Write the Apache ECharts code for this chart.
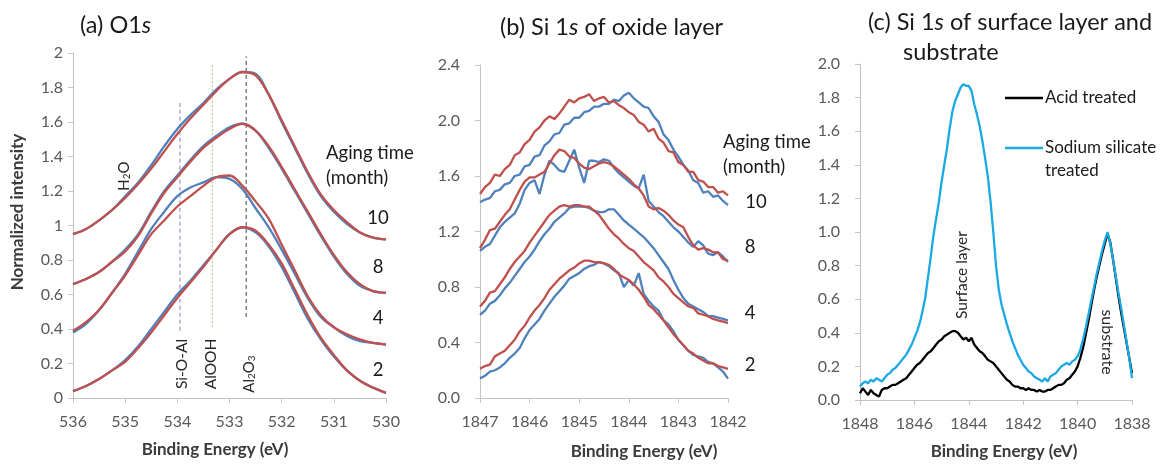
<!DOCTYPE html>
<html>
<head>
<meta charset="utf-8">
<title>XPS spectra</title>
<script src="https://cdn.jsdelivr.net/npm/echarts/dist/echarts.min.js"></script>
<style>
  html, body { margin: 0; padding: 0; background: #ffffff; }
  #chart { width: 1169px; height: 466px; }
</style>
</head>
<body>
<div id="chart"></div>
<script>
// ---------- (a) O1s ----------
const energyA = [536, 535.75, 535.5, 535.25, 535, 534.75, 534.5, 534.25, 534, 533.75, 533.5, 533.25, 533,
                 532.75, 532.5, 532.25, 532, 531.75, 531.5, 531.25, 531, 530.75, 530.5, 530.25, 530];
const o1sRed10  = [0.95,0.98,1.03,1.09,1.16,1.24,1.33,1.43,1.53,1.62,1.70,1.78,1.85,1.89,1.87,1.76,1.61,1.46,1.31,1.18,1.09,1.02,0.96,0.93,0.92];
const o1sBlue10 = [0.95,0.98,1.03,1.09,1.17,1.25,1.35,1.46,1.56,1.64,1.71,1.79,1.85,1.89,1.88,1.76,1.60,1.45,1.30,1.17,1.08,1.01,0.96,0.93,0.92];
const o1sRed8   = [0.66,0.69,0.73,0.79,0.85,0.94,1.07,1.19,1.28,1.37,1.45,1.51,1.56,1.59,1.55,1.46,1.34,1.21,1.08,0.95,0.83,0.73,0.66,0.62,0.61];
const o1sBlue8  = [0.66,0.69,0.73,0.79,0.86,0.95,1.08,1.20,1.29,1.38,1.46,1.52,1.57,1.59,1.55,1.45,1.33,1.20,1.07,0.94,0.82,0.72,0.65,0.62,0.61];
const o1sRed4   = [0.39,0.44,0.51,0.61,0.71,0.83,0.95,1.03,1.11,1.17,1.23,1.28,1.29,1.23,1.14,1.04,0.89,0.74,0.59,0.48,0.41,0.37,0.34,0.32,0.31];
const o1sBlue4  = [0.38,0.43,0.51,0.61,0.72,0.85,0.98,1.08,1.17,1.22,1.25,1.28,1.27,1.21,1.10,0.99,0.86,0.72,0.58,0.47,0.41,0.36,0.33,0.32,0.31];
const o1sRed2   = [0.04,0.07,0.11,0.16,0.21,0.29,0.38,0.48,0.58,0.67,0.76,0.86,0.95,0.99,0.97,0.89,0.78,0.63,0.48,0.35,0.25,0.16,0.10,0.06,0.03];
const o1sBlue2  = [0.04,0.07,0.11,0.16,0.22,0.30,0.40,0.50,0.60,0.68,0.77,0.86,0.95,0.99,0.96,0.88,0.76,0.61,0.46,0.34,0.24,0.16,0.10,0.06,0.03];
// reference binding energies (eV) and the span of each marker line
const lineSiOAl = [[533.95, 0.39], [533.95, 1.71]];
const lineAlOOH = [[533.33, 0.41], [533.33, 1.94]];
const lineAl2O3 = [[532.68, 0.47], [532.68, 1.98]];

// ---------- (b) Si 1s of oxide layer ----------
const energyB = [1847.0,1846.9,1846.8,1846.7,1846.6,1846.5,1846.4,1846.3,1846.2,1846.1,
                 1846.0,1845.9,1845.8,1845.7,1845.6,1845.5,1845.4,1845.3,1845.2,1845.1,
                 1845.0,1844.9,1844.8,1844.7,1844.6,1844.5,1844.4,1844.3,1844.2,1844.1,
                 1844.0,1843.9,1843.8,1843.7,1843.6,1843.5,1843.4,1843.3,1843.2,1843.1,
                 1843.0,1842.9,1842.8,1842.7,1842.6,1842.5,1842.4,1842.3,1842.2,1842.1,1842.0];
const siRed10  = [1.47,1.52,1.55,1.61,1.60,1.65,1.68,1.75,1.77,1.83,1.86,1.92,1.95,2.00,2.03,2.01,2.05,2.10,2.15,2.13,2.16,2.17,2.19,2.14,2.16,
                  2.17,2.13,2.14,2.11,2.09,2.06,2.04,1.99,1.97,1.92,1.94,1.87,1.84,1.78,1.77,1.70,1.68,1.63,1.63,1.57,1.56,1.52,1.52,1.48,1.49,1.46];
const siBlue10 = [1.41,1.43,1.44,1.49,1.50,1.54,1.55,1.60,1.61,1.67,1.68,1.74,1.75,1.82,1.85,1.90,1.91,1.97,1.98,2.02,2.02,2.06,2.07,2.10,2.10,
                  2.12,2.12,2.15,2.14,2.18,2.20,2.16,2.13,2.10,2.09,2.03,1.99,1.90,1.86,1.79,1.74,1.68,1.64,1.57,1.55,1.48,1.49,1.45,1.46,1.42,1.39];
const siRed8   = [1.08,1.14,1.21,1.22,1.27,1.32,1.36,1.43,1.50,1.56,1.59,1.59,1.61,1.63,1.69,1.75,1.79,1.78,1.74,1.73,1.69,1.66,1.65,1.67,1.69,
                  1.70,1.69,1.67,1.64,1.61,1.58,1.54,1.51,1.46,1.38,1.36,1.37,1.35,1.32,1.28,1.25,1.23,1.16,1.10,1.07,1.08,1.07,1.05,1.05,1.00,0.99];
const siBlue8  = [1.06,1.09,1.11,1.17,1.23,1.27,1.30,1.33,1.40,1.50,1.55,1.57,1.47,1.61,1.71,1.68,1.64,1.63,1.71,1.79,1.66,1.55,1.71,1.71,1.70,
                  1.72,1.71,1.66,1.62,1.59,1.56,1.53,1.51,1.61,1.42,1.38,1.34,1.31,1.27,1.23,1.20,1.16,1.12,1.09,1.13,1.10,1.04,1.03,1.05,1.02,0.98];
const siRed4   = [0.66,0.70,0.76,0.77,0.82,0.87,0.93,0.98,1.02,1.06,1.12,1.17,1.22,1.27,1.32,1.35,1.38,1.39,1.38,1.39,1.39,1.38,1.38,1.35,1.32,
                  1.27,1.22,1.18,1.15,1.11,1.08,1.06,1.02,0.98,0.95,0.92,0.87,0.84,0.80,0.75,0.72,0.69,0.66,0.65,0.61,0.60,0.59,0.57,0.56,0.55,0.54];
const siBlue4  = [0.60,0.63,0.68,0.70,0.74,0.79,0.83,0.88,0.93,0.98,1.02,1.07,1.13,1.18,1.22,1.27,1.30,1.33,1.37,1.38,1.38,1.38,1.37,1.35,1.34,
                  1.34,1.36,1.36,1.32,1.28,1.25,1.22,1.19,1.16,1.12,1.08,1.03,0.98,0.93,0.85,0.78,0.72,0.68,0.66,0.64,0.62,0.59,0.59,0.58,0.57,0.56];
const siRed2   = [0.21,0.23,0.24,0.30,0.32,0.34,0.38,0.42,0.48,0.52,0.58,0.63,0.67,0.72,0.78,0.82,0.86,0.89,0.92,0.94,0.97,0.99,0.99,0.98,0.98,
                  0.97,0.96,0.93,0.89,0.87,0.85,0.82,0.78,0.73,0.67,0.64,0.60,0.56,0.51,0.46,0.42,0.38,0.34,0.32,0.29,0.27,0.25,0.25,0.23,0.22,0.21];
const siBlue2  = [0.14,0.16,0.19,0.20,0.22,0.25,0.29,0.32,0.36,0.43,0.49,0.53,0.57,0.63,0.68,0.73,0.77,0.81,0.86,0.88,0.90,0.93,0.95,0.96,0.98,
                  0.97,0.95,0.92,0.90,0.80,0.85,0.81,0.90,0.75,0.70,0.66,0.63,0.56,0.53,0.48,0.42,0.38,0.34,0.31,0.30,0.29,0.26,0.25,0.22,0.19,0.14];

// ---------- (c) Si 1s of surface layer and substrate ----------
const energyC = [1848.0,1847.9,1847.8,1847.7,1847.6,1847.5,1847.4,1847.3,1847.2,1847.1,
                 1847.0,1846.9,1846.8,1846.7,1846.6,1846.5,1846.4,1846.3,1846.2,1846.1,
                 1846.0,1845.9,1845.8,1845.7,1845.6,1845.5,1845.4,1845.3,1845.2,1845.1,
                 1845.0,1844.9,1844.8,1844.7,1844.6,1844.5,1844.4,1844.3,1844.2,1844.1,
                 1844.0,1843.9,1843.8,1843.7,1843.6,1843.5,1843.4,1843.3,1843.2,1843.1,
                 1843.0,1842.9,1842.8,1842.7,1842.6,1842.5,1842.4,1842.3,1842.2,1842.1,
                 1842.0,1841.9,1841.8,1841.7,1841.6,1841.5,1841.4,1841.3,1841.2,1841.1,
                 1841.0,1840.9,1840.8,1840.7,1840.6,1840.5,1840.4,1840.3,1840.2,1840.1,
                 1840.0,1839.9,1839.8,1839.7,1839.6,1839.5,1839.4,1839.3,1839.2,1839.1,
                 1839.0,1838.9,1838.8,1838.7,1838.6,1838.5,1838.4,1838.3,1838.2,1838.1,1838.0];
const acidTreated = [0.04,0.07,0.05,0.03,0.06,0.04,0.03,0.02,0.06,0.07,
                     0.07,0.08,0.09,0.09,0.10,0.11,0.12,0.13,0.15,0.17,
                     0.19,0.21,0.22,0.24,0.26,0.28,0.29,0.31,0.33,0.35,
                     0.36,0.38,0.39,0.40,0.41,0.41,0.40,0.38,0.36,0.37,
                     0.35,0.37,0.33,0.31,0.29,0.28,0.26,0.24,0.23,0.22,
                     0.20,0.18,0.16,0.14,0.12,0.11,0.09,0.08,0.08,0.07,
                     0.07,0.06,0.07,0.06,0.06,0.05,0.06,0.05,0.05,0.06,
                     0.06,0.07,0.08,0.09,0.09,0.10,0.12,0.13,0.15,0.17,
                     0.20,0.25,0.31,0.39,0.47,0.56,0.65,0.73,0.80,0.87,
                     0.93,0.99,0.94,0.84,0.73,0.62,0.52,0.43,0.34,0.25,0.16];
const silicateTreated = [0.08,0.10,0.11,0.10,0.12,0.11,0.13,0.12,0.11,0.13,
                         0.15,0.16,0.18,0.19,0.21,0.23,0.25,0.27,0.30,0.33,
                         0.37,0.41,0.46,0.53,0.61,0.73,0.85,0.98,1.08,1.18,
                         1.30,1.40,1.50,1.62,1.72,1.78,1.82,1.86,1.88,1.87,
                         1.87,1.84,1.76,1.70,1.63,1.54,1.44,1.33,1.18,1.00,
                         0.80,0.66,0.57,0.51,0.45,0.40,0.35,0.31,0.27,0.24,
                         0.21,0.19,0.17,0.16,0.14,0.13,0.12,0.11,0.13,0.11,
                         0.14,0.15,0.16,0.18,0.20,0.21,0.22,0.21,0.23,0.24,
                         0.26,0.30,0.36,0.43,0.51,0.59,0.67,0.75,0.82,0.89,
                         0.95,1.00,0.93,0.84,0.74,0.64,0.55,0.45,0.35,0.25,0.13];

// ---------- styling ----------
const FONT = 'Lato, "Open Sans", sans-serif';
const RED = '#c0504d', BLUE = '#4f81bd', CYAN = '#1ba9e6', AXIS = '#c4c4c4', TICKTXT = '#595959';

const pairs = (xs, ys) => xs.map((x, i) => [x, ys[i]]);

function xAxisFor(grid, min, max, interval) {
  return {
    gridIndex: grid, type: 'value', inverse: true, min, max, interval,
    axisLine: { show: true, onZero: false, lineStyle: { color: AXIS, width: 1 } },
    axisTick: { show: true, length: 5, lineStyle: { color: AXIS } },
    axisLabel: { color: TICKTXT, fontSize: 16, fontFamily: FONT, margin: 16, formatter: v => String(v) },
    splitLine: { show: false }
  };
}
function yAxisFor(grid, max, interval, fixed) {
  return {
    gridIndex: grid, type: 'value', min: 0, max, interval,
    axisLine: { show: true, onZero: false, lineStyle: { color: AXIS, width: 1 } },
    axisTick: { show: true, length: 5, lineStyle: { color: AXIS } },
    axisLabel: {
      color: TICKTXT, fontSize: 16, fontFamily: FONT, margin: fixed ? 20 : 10,
      formatter: v => fixed ? v.toFixed(1) : String(+v.toFixed(1))
    },
    splitLine: { show: false }
  };
}
function spectrum(name, grid, xs, ys, color, smooth) {
  return {
    name, type: 'line', xAxisIndex: grid, yAxisIndex: grid,
    data: pairs(xs, ys), showSymbol: false, symbol: 'none',
    smooth: smooth ? 0.35 : false,
    lineStyle: { color, width: 2.3 }, silent: true
  };
}
function marker(grid, pts, color, type) {
  return {
    type: 'line', xAxisIndex: grid, yAxisIndex: grid, data: pts,
    symbol: 'none', silent: true, lineStyle: { color, width: 1, type }
  };
}
function txt(x, y, text, style, rotation) {
  return {
    type: 'text', x, y, rotation: rotation || 0, silent: true,
    style: Object.assign({
      text, fill: '#262626', fontSize: 15, fontFamily: FONT,
      align: 'center', verticalAlign: 'middle'
    }, style || {})
  };
}
const SUB = { fontSize: 10, fontFamily: FONT, fill: '#262626', verticalAlign: 'bottom', lineHeight: 10 };
const NORM = { fontSize: 15, fontFamily: FONT, fill: '#262626', lineHeight: 16 };
const ITAL = { fontSize: 23.5, fontFamily: FONT, fill: '#1a1a1a', fontStyle: 'italic' };
const TITLE = { fontSize: 23.5, fill: '#1a1a1a', align: 'left', rich: { i: ITAL } };
const AGE = { fontSize: 18.5, fill: '#1a1a1a' };
const AXNAME = { fontSize: 17, fontWeight: 'bold', fill: '#3a3a3a' };

const chart = echarts.init(document.getElementById('chart'), null, { renderer: 'canvas' });

chart.setOption({
  animation: false,
  backgroundColor: '#ffffff',
  grid: [
    { left: 73, top: 53, width: 313, height: 345 },
    { left: 480, top: 65, width: 248, height: 333 },
    { left: 860, top: 64, width: 272, height: 336 }
  ],
  xAxis: [
    xAxisFor(0, 530, 536, 1),
    xAxisFor(1, 1842, 1847, 1),
    xAxisFor(2, 1838, 1848, 2)
  ],
  yAxis: [
    yAxisFor(0, 2, 0.2, false),
    yAxisFor(1, 2.4, 0.4, true),
    yAxisFor(2, 2, 0.2, true)
  ],
  series: [
    marker(0, lineSiOAl, '#8a7cc4', [4, 3]),
    marker(0, lineAlOOH, '#a8c66c', [2, 2]),
    marker(0, lineAl2O3, '#404040', [4, 3]),
    spectrum('O1s 10 b', 0, energyA, o1sBlue10, BLUE, true),
    spectrum('O1s 10 r', 0, energyA, o1sRed10, RED, true),
    spectrum('O1s 8 b', 0, energyA, o1sBlue8, BLUE, true),
    spectrum('O1s 8 r', 0, energyA, o1sRed8, RED, true),
    spectrum('O1s 4 b', 0, energyA, o1sBlue4, BLUE, true),
    spectrum('O1s 4 r', 0, energyA, o1sRed4, RED, true),
    spectrum('O1s 2 b', 0, energyA, o1sBlue2, BLUE, true),
    spectrum('O1s 2 r', 0, energyA, o1sRed2, RED, true),

    spectrum('Si 10 b', 1, energyB, siBlue10, BLUE, false),
    spectrum('Si 10 r', 1, energyB, siRed10, RED, false),
    spectrum('Si 8 b', 1, energyB, siBlue8, BLUE, false),
    spectrum('Si 8 r', 1, energyB, siRed8, RED, false),
    spectrum('Si 4 b', 1, energyB, siBlue4, BLUE, false),
    spectrum('Si 4 r', 1, energyB, siRed4, RED, false),
    spectrum('Si 2 b', 1, energyB, siBlue2, BLUE, false),
    spectrum('Si 2 r', 1, energyB, siRed2, RED, false),

    spectrum('Acid treated', 2, energyC, acidTreated, '#000000', false),
    spectrum('Sodium silicate treated', 2, energyC, silicateTreated, CYAN, false)
  ],
  graphic: [
    // panel titles
    txt(80, 25, '(a) O1{i|s}', TITLE),
    txt(500, 27, '(b) Si 1{i|s} of oxide layer', TITLE),
    txt(868, 22, '(c) Si 1{i|s} of surface layer and', TITLE),
    txt(903, 52, 'substrate', { fontSize: 23.5, fill: '#1a1a1a', align: 'left' }),

    // axis names
    txt(18, 212, 'Normalized intensity', AXNAME, Math.PI / 2),
    txt(215, 450, 'Binding Energy (eV)', AXNAME),
    txt(644, 452, 'Binding Energy (eV)', AXNAME),
    txt(1004, 452, 'Binding Energy (eV)', AXNAME),

    // (a) chemical-state labels
    txt(124, 176, '{n|H}{s|2}{n|O}', { rich: { n: NORM, s: SUB } }, Math.PI / 2),
    txt(182, 364, 'Si-O-Al', { fontSize: 15.5 }, Math.PI / 2),
    txt(211, 364, 'AlOOH', { fontSize: 15.5 }, Math.PI / 2),
    txt(249, 374, '{n|Al}{s|2}{n|O}{s|3}', { rich: { n: NORM, s: SUB } }, Math.PI / 2),

    // (a) aging time labels
    txt(326, 153, 'Aging time', Object.assign({}, AGE, { align: 'left' })),
    txt(326, 178, '(month)', Object.assign({}, AGE, { align: 'left' })),
    txt(378, 218, '10', AGE),
    txt(378, 267, '8', AGE),
    txt(378, 318, '4', AGE),
    txt(378, 370, '2', AGE),

    // (b) aging time labels
    txt(723, 142, 'Aging time', Object.assign({}, AGE, { align: 'left' })),
    txt(723, 167, '(month)', Object.assign({}, AGE, { align: 'left' })),
    txt(756, 202, '10', AGE),
    txt(750, 247, '8', AGE),
    txt(750, 313, '4', AGE),
    txt(750, 365, '2', AGE),

    // (c) legend
    { type: 'line', silent: true, shape: { x1: 1005, y1: 98, x2: 1043, y2: 98 }, style: { stroke: '#000000', lineWidth: 2.5 } },
    { type: 'line', silent: true, shape: { x1: 1005, y1: 148, x2: 1043, y2: 148 }, style: { stroke: CYAN, lineWidth: 2.5 } },
    txt(1045, 98, 'Acid treated', { fontSize: 17, fill: '#1a1a1a', align: 'left' }),
    txt(1045, 148, 'Sodium silicate', { fontSize: 17, fill: '#1a1a1a', align: 'left' }),
    txt(1045, 171, 'treated', { fontSize: 17, fill: '#1a1a1a', align: 'left' }),

    // (c) peak labels
    txt(962, 275, 'Surface layer', { fontSize: 15.5 }, Math.PI / 2),
    txt(1107, 342, 'substrate', { fontSize: 16 }, -Math.PI / 2)
  ]
});
</script>
</body>
</html>
